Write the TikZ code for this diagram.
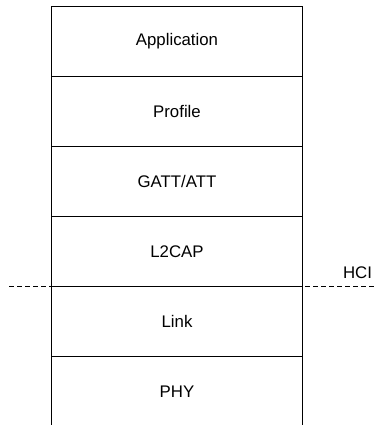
\documentclass[tikz,border=0pt]{standalone}
\usepackage{fontspec}
\setmainfont{Liberation Sans}
\begin{document}
\begin{tikzpicture}[x=1pt,y=-1pt,
  layer/.style={minimum width=251pt,minimum height=70pt,inner sep=0pt,
    outer sep=0pt,anchor=north,font=\fontsize{16.8}{20}\selectfont},
  boxed/.style={layer,draw,line width=1pt},
  boundary/.style={dash pattern=on 4.5pt off 3.5pt,line width=1pt}]
\useasboundingbox (0,0) rectangle (377,425);
% protocol stack, top to bottom
\node[boxed] (application) at (177,6.5) {Application};
\node[boxed] (profile) at (application.south) {Profile};
\node[boxed] (gatt) at (profile.south) {GATT/ATT};
\node[boxed] (l2cap) at (gatt.south) {L2CAP};
\node[boxed] (link) at (l2cap.south) {Link};
\node[layer] (phy) at (link.south) {PHY};
% lowest layer stays open at the bottom
\draw[line width=1pt] (phy.south west) -- (phy.north west) -- (phy.north east) -- (phy.south east);
% host controller interface boundary
\coordinate (hcileft) at (l2cap.south -| 9,0);
\coordinate (hciright) at (l2cap.south -| 375,0);
\draw[boundary] (hcileft) -- (hciright);
\node[font=\fontsize{16.8}{20}\selectfont] (hci) at (357.5,272.5) {HCI};
\end{tikzpicture}
\end{document}
